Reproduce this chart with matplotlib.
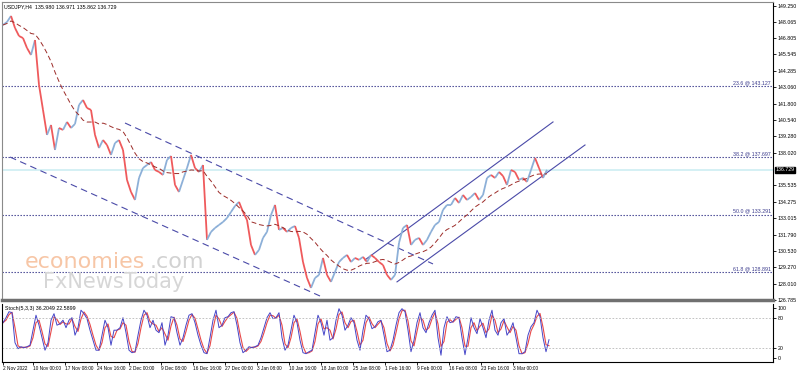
import numpy as np
import pandas as pd
import matplotlib.pyplot as plt
from matplotlib.collections import LineCollection
import matplotlib.transforms as mtransforms

plt.rcParams['font.family'] = ['Liberation Sans', 'DejaVu Sans']

# USDJPY H4 closes, one value every 4 bars
closes = [147.80, 148.03, 148.49, 147.57, 146.96, 146.80, 146.04, 145.51, 146.65, 143.22,
          141.31, 139.40, 140.16, 138.25, 139.93, 139.78, 140.39, 139.93, 140.24, 141.69,
          142.07, 141.46, 141.31, 139.40, 138.40, 139.01, 138.63, 137.87, 138.78, 139.01,
          138.25, 135.96, 135.04, 134.43, 136.11, 136.87, 137.10, 137.33, 136.72, 136.57,
          136.34, 137.49, 137.79, 135.58, 135.04, 135.96, 136.87, 137.87, 136.87, 136.57,
          137.10, 131.38, 131.99, 132.29, 132.52, 132.75, 133.05, 133.51, 133.97, 134.28,
          133.51, 132.90, 130.99, 130.23, 130.61, 131.53, 131.99, 133.28, 134.05, 132.14,
          132.29, 131.99, 132.29, 132.44, 131.53, 129.69, 128.47, 127.71, 128.47, 128.70,
          130.00, 128.70, 128.17, 128.93, 129.69, 130.00, 130.23, 129.69, 130.00, 129.85,
          130.08, 129.69, 130.23, 130.00, 129.69, 129.46, 128.70, 128.32, 128.70, 131.15,
          132.29, 132.52, 130.99, 131.38, 131.53, 130.99, 131.38, 131.99, 132.52, 132.75,
          133.67, 134.05, 134.05, 134.58, 134.20, 134.81, 134.43, 134.66, 134.96, 134.43,
          134.81, 136.11, 136.34, 136.11, 136.57, 136.26, 135.58, 136.72, 136.57, 135.96,
          136.11, 135.81, 136.72, 137.64, 136.87, 136.11, 136.73]

# Stochastic %K, one value every 3 bars
stoch_k = [70, 80, 92, 90, 30, 18, 22, 20, 22, 25, 55, 85, 65, 40, 15, 30, 75, 88, 65, 68,
           75, 60, 75, 80, 45, 60, 95, 88, 78, 55, 35, 15, 15, 45, 75, 60, 25, 55, 55, 60,
           80, 50, 15, 10, 12, 45, 75, 95, 85, 60, 75, 55, 50, 70, 25, 45, 82, 80, 50, 25,
           40, 65, 85, 88, 70, 45, 25, 10, 8, 40, 75, 95, 60, 65, 80, 82, 90, 92, 65, 30,
           10, 15, 22, 20, 22, 25, 40, 60, 80, 90, 78, 80, 90, 40, 15, 25, 55, 85, 70, 35,
           10, 8, 12, 15, 50, 85, 70, 45, 75, 35, 40, 75, 98, 85, 55, 65, 80, 70, 35, 15,
           55, 85, 78, 58, 62, 72, 75, 45, 12, 15, 35, 65, 90, 98, 92, 55, 12, 35, 70, 90,
           60, 50, 70, 85, 95, 40, 5, 60, 82, 70, 72, 82, 80, 40, 6, 40, 80, 60, 48, 78,
           60, 40, 75, 95, 55, 45, 70, 78, 45, 55, 70, 40, 8, 8, 12, 45, 62, 70, 95, 82,
           40, 12, 36]

fib_names = ['23.6', '38.2', '50.0', '61.8']
fib_levels = [143.127, 137.697, 133.291, 128.891]
last_price = 136.729

price_ticks = [149.250, 148.065, 146.805, 145.545, 144.285, 143.060, 141.800, 140.540,
               139.280, 138.020, 135.535, 134.275, 133.015, 131.790, 130.530, 129.270,
               128.010, 126.785]

date_labels = ['2 Nov 2022', '10 Nov 00:00', '17 Nov 08:00', '24 Nov 16:00', '2 Dec 00:00',
               '9 Dec 08:00', '16 Dec 16:00', '27 Dec 00:00', '3 Jan 08:00', '10 Jan 16:00',
               '18 Jan 00:00', '25 Jan 08:00', '1 Feb 16:00', '9 Feb 00:00', '16 Feb 08:00',
               '23 Feb 16:00', '3 Mar 00:00']
date_bars = [0, 30, 62, 94, 126, 158, 190, 222, 254, 286, 318, 350, 382, 414, 446, 478, 510]

# trend channels (bar, price)
desc_upper = [(122, 140.31), (430, 129.54)]
desc_lower = [(7, 137.71), (317, 127.09)]
asc_upper = [(362, 129.85), (550, 140.39)]
asc_lower = [(394, 128.17), (582, 138.63)]

fig = plt.figure(figsize=(7.98, 3.72), dpi=100)
ax = fig.add_axes([2/798, 72/372, 771/798, 298/372])
ax2 = fig.add_axes([2/798, 10/372, 771/798, 58/372])

navy = '#3a3a8c'
small = 3.8

# price
c = np.array(closes)
x = np.arange(len(c)) * 4
segs = [[(x[i], c[i]), (x[i+1], c[i+1])] for i in range(len(c) - 1)]
cols = ['#ef5a5c' if c[i+1] < c[i] else '#8db0d8' for i in range(len(c) - 1)]
ax.add_collection(LineCollection(segs, colors=cols, linewidths=1.3, zorder=3))

ma = pd.Series(c).rolling(12, min_periods=1).mean()
ax.plot(x, ma, color='#9c2b28', lw=0.7, ls=(0, (5, 3)), zorder=4)

ax.axhline(last_price, color='#cdeef2', lw=1.2, zorder=1)
for name, lvl in zip(fib_names, fib_levels):
    ax.axhline(lvl, color=navy, lw=0.8, ls=(0, (1.2, 1.5)), zorder=2)
    ax.text(768, lvl + 0.08, f'{name} @ {lvl:.3f}', ha='right', va='bottom',
            fontsize=small, color=navy)

for pts in [desc_upper, desc_lower]:
    ax.plot([p[0] for p in pts], [p[1] for p in pts], color='#4a4aa8', lw=0.8,
            ls=(0, (6, 4)), zorder=2)
for pts in [asc_upper, asc_lower]:
    ax.plot([p[0] for p in pts], [p[1] for p in pts], color='#4a4aa8', lw=0.8, zorder=2)

ax.set_xlim(-1, 770)
ax.set_ylim(126.79, 149.556)
ax.yaxis.tick_right()
ax.set_yticks(price_ticks)
ax.set_yticklabels([f'{t:.3f}' for t in price_ticks])
ax.tick_params(axis='y', labelsize=small, length=2, pad=1.5, width=0.6)
ax.set_xticks([])
for s in ['left', 'top']:
    ax.spines[s].set_color('#8a8a8a')
    ax.spines[s].set_linewidth(0.8)
ax.spines['right'].set_color('black')
ax.spines['right'].set_linewidth(0.8)
ax.spines['bottom'].set_color('#707070')
ax.spines['bottom'].set_linewidth(2.5)

trans = mtransforms.blended_transform_factory(ax.transAxes, ax.transData)
ax.text(1.003, last_price, f'{last_price:.3f}', transform=trans, va='center', ha='left',
        fontsize=small, color='white',
        bbox=dict(boxstyle='square,pad=0.15', fc='black', ec='black'))

fig.text(4/798, 1 - 7/372, 'USDJPY,H4  135.980 136.971 135.862 136.729',
         fontsize=small, va='center', ha='left', color='black')

# watermark
fig.text(25/798, 1 - 268/372, 'economies', fontsize=16, color='#f7c6a6',
         family='DejaVu Sans', va='baseline')
fig.text(150/798, 1 - 268/372, '.com', fontsize=16, color='#d2d2d2',
         family='DejaVu Sans', va='baseline')
fig.text(43/798, 1 - 288/372, 'FxNewsToday', fontsize=15, color='#d6d6d6',
         family='DejaVu Sans', va='baseline')

# stochastic
k = pd.Series(stoch_k)
d = k.rolling(2, min_periods=1).mean()
xs = np.arange(len(k)) * 3
ax2.plot(xs, d, color='#e84a4a', lw=0.8)
ax2.plot(xs, k, color='#4545c8', lw=0.7)
for lvl in [80, 20]:
    ax2.axhline(lvl, color='#b8b8b8', lw=0.6, ls=(0, (2, 2)))
ax2.set_xlim(-1, 770)
ax2.set_ylim(-8.6, 107.4)
ax2.yaxis.tick_right()
ax2.set_yticks([0, 20, 80, 100])
ax2.set_yticklabels(['0', '20', '80', '100'])
ax2.tick_params(axis='y', labelsize=small, length=2, pad=1.5, width=0.6)
ax2.set_xticks(date_bars)
ax2.set_xticklabels(date_labels, ha='left')
ax2.tick_params(axis='x', labelsize=3.4, length=2, pad=1, width=0.6)
for s in ['left', 'right', 'bottom']:
    ax2.spines[s].set_color('black')
    ax2.spines[s].set_linewidth(0.8)
ax2.spines['top'].set_visible(False)
ax2.text(0.004, 0.97, 'Stoch(5,3,3) 36.2049 22.5899', transform=ax2.transAxes,
         fontsize=small, va='top', ha='left')

plt.savefig('out.png', dpi=100)
